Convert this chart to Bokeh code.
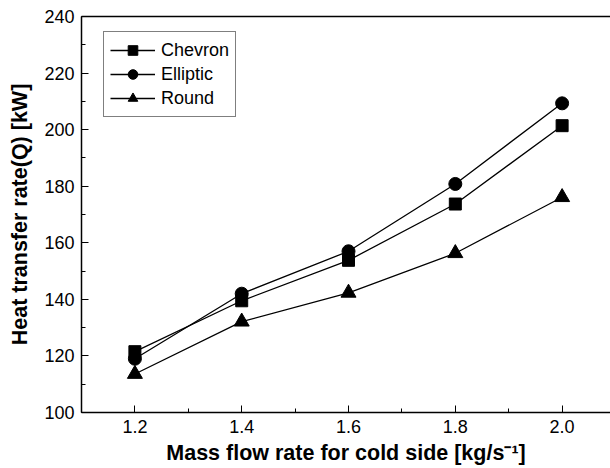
from bokeh.plotting import figure
from bokeh.embed import file_html
from bokeh.resources import INLINE
from bokeh.models import (Range1d, SingleIntervalTicker, PrintfTickFormatter,
                          Legend, LegendItem, LinearAxis)

mass_flow = [1.2, 1.4, 1.6, 1.8, 2.0]
chevron = [121.5, 139.5, 153.8, 173.7, 201.4]
elliptic = [119.0, 142.0, 157.0, 180.8, 209.3]
round_ = [113.6, 132.1, 142.3, 156.3, 176.1]

FONT = "Liberation Sans"

p = figure(frame_width=529, frame_height=396, output_backend="svg",
           toolbar_location=None, x_range=Range1d(1.1, 2.0906),
           y_range=Range1d(100, 240), min_border_left=81, min_border_right=0,
           min_border_top=16, min_border_bottom=56)
p.outline_line_color = None
p.xgrid.visible = False
p.ygrid.visible = False
p.background_fill_color = "white"

r1 = p.line(mass_flow, chevron, line_color="black", line_width=1.3)
m1 = p.scatter(mass_flow, chevron, marker="square", size=12, color="black")
r2 = p.line(mass_flow, elliptic, line_color="black", line_width=1.3)
m2 = p.scatter(mass_flow, elliptic, marker="circle", size=13, color="black")
r3 = p.line(mass_flow, round_, line_color="black", line_width=1.3)
m3 = p.scatter(mass_flow, round_, marker="triangle", size=15, color="black")

for ax in (p.xaxis[0], p.yaxis[0]):
    ax.axis_line_width = 1.5
    ax.axis_line_color = "black"
    ax.major_tick_in = 7
    ax.major_tick_out = 0
    ax.minor_tick_in = 4
    ax.minor_tick_out = 0
    ax.major_tick_line_color = "black"
    ax.minor_tick_line_color = "black"
    ax.major_label_text_font = FONT
    ax.major_label_text_font_size = "18px"
    ax.major_label_text_color = "black"
    ax.axis_label_text_font = FONT
    ax.axis_label_text_font_size = "21.5px"
    ax.axis_label_text_font_style = "bold"
    ax.axis_label_text_color = "black"

p.xaxis[0].ticker = SingleIntervalTicker(interval=0.2, num_minor_ticks=2)
p.xaxis[0].formatter = PrintfTickFormatter(format="%.1f")
p.xaxis[0].major_label_standoff = 7
p.xaxis[0].axis_label = "Mass flow rate for cold side [kg/s\u207b\u00b9]"
p.xaxis[0].axis_label_standoff = 5

p.yaxis[0].ticker = SingleIntervalTicker(interval=20, num_minor_ticks=2)
p.yaxis[0].major_label_standoff = 7
p.yaxis[0].axis_label = "Heat transfer rate(Q) [kW]"
p.yaxis[0].axis_label_standoff = 9

top = LinearAxis(ticker=SingleIntervalTicker(interval=20), major_tick_in=0,
                 major_tick_out=0, minor_tick_in=0, minor_tick_out=0,
                 major_label_text_font_size="0px", axis_line_width=1.5,
                 axis_line_color="black")
p.add_layout(top, "above")

legend = Legend(items=[
    LegendItem(label="Chevron", renderers=[r1, m1]),
    LegendItem(label="Elliptic", renderers=[r2, m2]),
    LegendItem(label="Round", renderers=[r3, m3]),
], location=(22, 295))
legend.label_text_font = FONT
legend.label_text_font_size = "18px"
legend.label_text_color = "black"
legend.glyph_width = 45
legend.glyph_height = 24
legend.label_height = 24
legend.spacing = 0
legend.padding = 6
legend.margin = 0
legend.label_standoff = 6
legend.border_line_color = "black"
legend.border_line_width = 1.3
legend.background_fill_alpha = 1.0
p.add_layout(legend, "center")

open("out.html", "w").write(file_html(p, INLINE))
